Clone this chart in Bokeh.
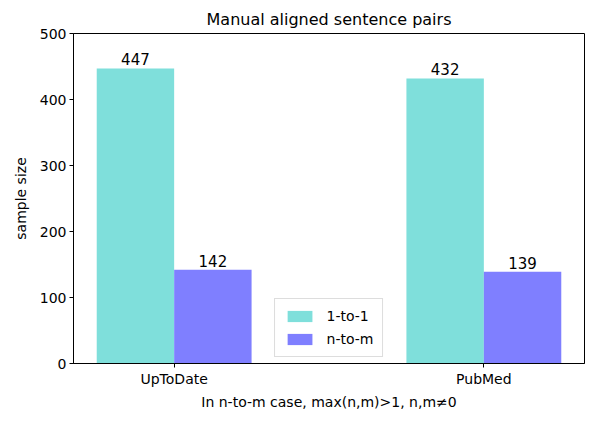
from bokeh.plotting import figure
from bokeh.models import ColumnDataSource, FixedTicker, Range1d, Legend, LegendItem
from bokeh.core.properties import value
from bokeh.embed import file_html
from bokeh.resources import INLINE

categories = ["UpToDate", "PubMed"]
one_to_one = [447, 432]
n_to_m = [142, 139]
series_names = ["1-to-1", "n-to-m"]
colors = ["#7fdfdb", "#7f7fff"]

xs = list(range(len(categories)))
w = 0.25
FONT = "DejaVu Sans"

p = figure(width=587, height=415, output_backend="svg", toolbar_location=None,
           x_range=Range1d(-0.325, 1.325), y_range=Range1d(0, 500),
           title="Manual aligned sentence pairs",
           min_border_left=73, min_border_right=3, min_border_top=33, min_border_bottom=52)

src1 = ColumnDataSource(dict(x=[x - w / 2 for x in xs], top=one_to_one, lab=[str(v) for v in one_to_one]))
src2 = ColumnDataSource(dict(x=[x + w / 2 for x in xs], top=n_to_m, lab=[str(v) for v in n_to_m]))

r1 = p.vbar(x="x", top="top", width=w, bottom=0, source=src1, fill_color=colors[0], line_color=None)
r2 = p.vbar(x="x", top="top", width=w, bottom=0, source=src2, fill_color=colors[1], line_color=None)

for s in (src1, src2):
    p.text(x="x", y="top", text="lab", source=s, text_align="center", text_baseline="bottom",
           text_font=value(FONT), text_font_size="15px", text_color="black", y_offset=-3)

p.title.align = "center"
p.title.text_font = FONT
p.title.text_font_size = "16px"
p.title.text_font_style = "normal"
p.title.text_color = "black"

p.xaxis.ticker = FixedTicker(ticks=xs)
p.xaxis.major_label_overrides = {i: c for i, c in enumerate(categories)}
p.yaxis.ticker = FixedTicker(ticks=[0, 100, 200, 300, 400, 500])
p.xaxis.axis_label = "In n-to-m case, max(n,m)>1, n,m≠0"
p.yaxis.axis_label = "sample size"
for ax in (p.xaxis, p.yaxis):
    ax.axis_label_text_font = FONT
    ax.axis_label_text_font_size = "14px"
    ax.axis_label_text_font_style = "normal"
    ax.axis_label_text_color = "black"
    ax.major_label_text_font = FONT
    ax.major_label_text_font_size = "14px"
    ax.major_label_text_color = "black"
    ax.major_tick_in = 0
    ax.major_tick_out = 4
    ax.minor_tick_line_color = None
    ax.axis_line_color = "black"
    ax.major_tick_line_color = "black"
    ax.major_label_standoff = 3
p.xaxis.axis_label_standoff = 4
p.yaxis.axis_label_standoff = 8

p.xgrid.grid_line_color = None
p.ygrid.grid_line_color = None
p.outline_line_color = "black"
p.outline_line_alpha = 1
p.outline_line_width = 1

legend = Legend(items=[LegendItem(label=series_names[0], renderers=[r1]),
                       LegendItem(label=series_names[1], renderers=[r2])],
                location="bottom_center")
legend.label_text_font = FONT
legend.label_text_font_size = "14px"
legend.label_text_color = "black"
legend.label_standoff = 12
legend.border_line_color = "#dddddd"
legend.border_line_alpha = 1
legend.margin = 6
legend.padding = 9
legend.spacing = 7
legend.glyph_width = 31
legend.glyph_height = 14
legend.background_fill_alpha = 0.8
p.add_layout(legend, "center")

open("out.html", "w").write(file_html(p, INLINE))
